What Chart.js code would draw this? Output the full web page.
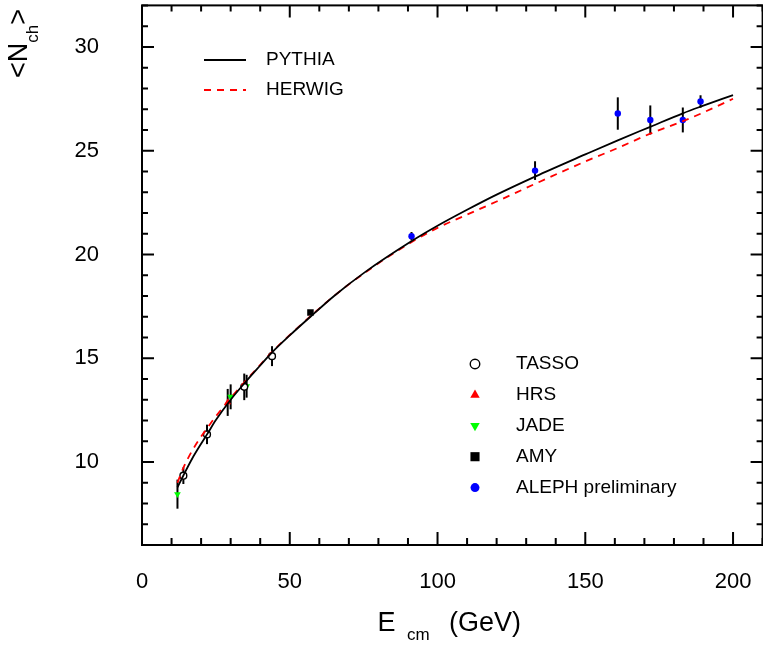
<!DOCTYPE html>
<html>
<head>
<meta charset="utf-8">
<script src="https://cdn.jsdelivr.net/npm/chart.js@4.4.0/dist/chart.umd.min.js"></script>
<style>
  html, body { margin: 0; padding: 0; background: #fff; overflow: hidden; }
  #contenedor { width: 768px; height: 645px; }
</style>
</head>
<body>
<div id="contenedor"><canvas id="miGrafico" width="768" height="645" style="width:768px;height:645px"></canvas></div>
<script>
// Curvas de Monte Carlo
const curvaE = [12, 14, 17, 20, 22, 25, 30, 35, 40, 44, 50, 57, 65, 75, 91, 100, 110, 120, 133, 150, 161, 172, 183, 189, 200];
const pythiaN = [8.78, 9.35, 10.17, 10.88, 11.33, 12.02, 13.0, 13.85, 14.65, 15.28, 16.1, 17.0, 18.0, 19.1, 20.62, 21.38, 22.15, 22.88, 23.75, 24.82, 25.5, 26.15, 26.8, 27.12, 27.68];
const herwigN = [9.0, 9.72, 10.55, 11.22, 11.62, 12.2, 13.08, 13.9, 14.68, 15.3, 16.12, 17.02, 18.0, 19.08, 20.58, 21.28, 21.92, 22.55, 23.4, 24.48, 25.13, 25.82, 26.42, 26.78, 27.5];

// Datos experimentales
const tassoE = [14, 22, 34.6, 44];
const tassoN = [9.34, 11.33, 13.62, 15.1];
const tassoErr = [0.4, 0.47, 0.64, 0.48];

const hrsE = [29];
const hrsN = [12.87];
const hrsErr = [0.65];

const jadeE = [12, 30, 35.4];
const jadeN = [8.45, 13.14, 13.65];
const jadeErr = [0.7, 0.6, 0.55];

const amyE = [57];
const amyN = [17.2];
const amyErr = [0.1];

const alephE = [91.2, 133, 161, 172, 183, 189];
const alephN = [20.88, 24.04, 26.79, 26.48, 26.48, 27.37];
const alephErr = [0.2, 0.45, 0.78, 0.7, 0.6, 0.3];

// Ejes
const xTicks = [0, 50, 100, 150, 200];
const yTicks = [10, 15, 20, 25, 30];

const FUENTE = "'Liberation Sans', Arial, Helvetica, sans-serif";

const puntos = (xs, ys) => xs.map((v, i) => ({ x: v, y: ys[i] }));

const barrasError = {
    id: 'barrasError',
    beforeDatasetsDraw(chart) {
        const { ctx, scales: { x, y } } = chart;
        ctx.save();
        ctx.strokeStyle = '#000';
        ctx.lineWidth = 2;
        chart.data.datasets.forEach(ds => {
            if (!ds.errores) return;
            ds.data.forEach((p, j) => {
                const px = x.getPixelForValue(p.x);
                ctx.beginPath();
                ctx.moveTo(px, y.getPixelForValue(p.y - ds.errores[j]));
                ctx.lineTo(px, y.getPixelForValue(p.y + ds.errores[j]));
                ctx.stroke();
            });
        });
        ctx.restore();
    }
};

// Marco con marcas hacia dentro en los cuatro lados
const marco = {
    id: 'marco',
    afterDatasetsDraw(chart) {
        const { ctx, chartArea: a, scales: { x, y } } = chart;
        ctx.save();
        ctx.strokeStyle = '#000';
        ctx.lineWidth = 2;
        ctx.strokeRect(a.left, a.top, a.right - a.left, a.bottom - a.top);
        ctx.beginPath();
        for (let v = 0; v <= 210; v += 10) {
            const px = x.getPixelForValue(v);
            const mayor = v % 50 === 0;
            ctx.moveTo(px, a.bottom); ctx.lineTo(px, a.bottom - (mayor ? 13 : 7));
            ctx.moveTo(px, a.top); ctx.lineTo(px, a.top + (mayor ? 12 : 6));
        }
        for (let v = 7; v <= 32; v += 1) {
            const py = y.getPixelForValue(v);
            const mayor = v % 5 === 0;
            ctx.moveTo(a.left, py); ctx.lineTo(a.left + (mayor ? 12 : 6), py);
            ctx.moveTo(a.right, py); ctx.lineTo(a.right - (mayor ? 12 : 6), py);
        }
        ctx.stroke();
        ctx.restore();
    }
};

function dibujarMarcador(ctx, ds, x, y, escala) {
    ctx.save();
    ctx.fillStyle = ds.backgroundColor;
    ctx.strokeStyle = ds.borderColor;
    ctx.lineWidth = ds.borderWidth || 1;
    Chart.helpers.drawPoint(ctx, {
        pointStyle: ds.pointStyle,
        rotation: ds.pointRotation || 0,
        radius: ds.pointRadius * escala,
        borderWidth: ds.borderWidth || 0
    }, x, y);
    ctx.restore();
}

const textos = {
    id: 'textos',
    afterDraw(chart) {
        const { ctx } = chart;
        const dsets = chart.data.datasets;
        ctx.save();
        ctx.fillStyle = '#000';
        ctx.textBaseline = 'middle';
        ctx.textAlign = 'left';

        // Leyenda de curvas
        ctx.font = `19px ${FUENTE}`;
        const curvas = dsets.filter(d => d.esCurva);
        curvas.forEach((d, i) => {
            const yy = 60 + i * 30;
            ctx.save();
            ctx.strokeStyle = d.borderColor;
            ctx.lineWidth = d.borderWidth;
            ctx.setLineDash(d.borderDash || []);
            ctx.beginPath();
            ctx.moveTo(204, yy);
            ctx.lineTo(246, yy);
            ctx.stroke();
            ctx.restore();
            ctx.fillText(d.label, 266, yy);
        });

        // Leyenda de datos
        const datos = dsets.filter(d => !d.esCurva);
        datos.forEach((d, i) => {
            const yy = 364 + i * 30.9;
            dibujarMarcador(ctx, d, 475, yy, 1.4);
            ctx.fillStyle = '#000';
            ctx.fillText(d.label, 516, yy);
        });

        // Titulo eje X
        ctx.textBaseline = 'alphabetic';
        ctx.font = `27px ${FUENTE}`;
        ctx.fillText('E', 377.5, 631);
        ctx.font = `17px ${FUENTE}`;
        ctx.fillText('cm', 407, 640);
        ctx.font = `27px ${FUENTE}`;
        ctx.fillText('(GeV)', 449, 631);

        // Titulo eje Y
        ctx.translate(27, 78);
        ctx.rotate(-Math.PI / 2);
        let cx = 0;
        ctx.font = `27px ${FUENTE}`;
        ctx.fillText('<N', cx, 0);
        cx += ctx.measureText('<N').width;
        ctx.font = `17px ${FUENTE}`;
        ctx.fillText('ch', cx, 11);
        cx += ctx.measureText('ch').width;
        ctx.font = `27px ${FUENTE}`;
        ctx.fillText('>', cx, 0);
        ctx.restore();
    }
};

const ctx = document.getElementById('miGrafico').getContext('2d');

const miGrafico = new Chart(ctx, {
    type: 'scatter',
    data: {
        datasets: [
            {
                label: 'PYTHIA', esCurva: true,
                data: puntos(curvaE, pythiaN),
                showLine: true, pointRadius: 0,
                borderColor: '#000', backgroundColor: '#000', borderWidth: 1.8,
                cubicInterpolationMode: 'monotone', tension: 0.4
            },
            {
                label: 'HERWIG', esCurva: true,
                data: puntos(curvaE, herwigN),
                showLine: true, pointRadius: 0,
                borderColor: '#ff0000', backgroundColor: '#ff0000', borderWidth: 1.8,
                borderDash: [7, 6],
                cubicInterpolationMode: 'monotone', tension: 0.4
            },
            {
                label: 'TASSO', data: puntos(tassoE, tassoN), errores: tassoErr,
                pointStyle: 'circle', pointRadius: 3.4,
                backgroundColor: '#fff', borderColor: '#000', borderWidth: 1.4
            },
            {
                label: 'HRS', data: puntos(hrsE, hrsN), errores: hrsErr,
                pointStyle: 'triangle', pointRadius: 3.9,
                backgroundColor: '#ff0000', borderColor: '#ff0000', borderWidth: 0
            },
            {
                label: 'JADE', data: puntos(jadeE, jadeN), errores: jadeErr,
                pointStyle: 'triangle', pointRotation: 180, pointRadius: 3.9,
                backgroundColor: '#00ff00', borderColor: '#00ff00', borderWidth: 0
            },
            {
                label: 'AMY', data: puntos(amyE, amyN), errores: amyErr,
                pointStyle: 'rect', pointRadius: 4.6,
                backgroundColor: '#000', borderColor: '#000', borderWidth: 0
            },
            {
                label: 'ALEPH preliminary', data: puntos(alephE, alephN), errores: alephErr,
                pointStyle: 'circle', pointRadius: 3.2,
                backgroundColor: '#0000ff', borderColor: '#0000ff', borderWidth: 0
            }
        ]
    },
    options: {
        responsive: false,
        animation: false,
        devicePixelRatio: 1,
        layout: { padding: { top: 4, right: 3, left: 0, bottom: 0 } },
        plugins: {
            legend: { display: false },
            tooltip: { enabled: false }
        },
        scales: {
            x: {
                type: 'linear', min: 0, max: 210,
                afterBuildTicks: s => { s.ticks = xTicks.map(v => ({ value: v })); },
                afterFit: s => { s.height = 100; s.paddingLeft = 0; s.paddingRight = 0; },
                grid: { display: false, drawTicks: false },
                border: { display: false },
                ticks: {
                    font: { size: 22, family: FUENTE }, color: '#000',
                    padding: 24, maxRotation: 0, autoSkip: false
                }
            },
            y: {
                type: 'linear', min: 6, max: 32,
                afterBuildTicks: s => { s.ticks = yTicks.map(v => ({ value: v })); },
                afterFit: s => { s.width = 142; s.paddingTop = 0; s.paddingBottom = 0; },
                grid: { display: false, drawTicks: false },
                border: { display: false },
                ticks: {
                    font: { size: 22, family: FUENTE }, color: '#000',
                    padding: 43, autoSkip: false
                }
            }
        }
    },
    plugins: [barrasError, marco, textos]
});
</script>
</body>
</html>
